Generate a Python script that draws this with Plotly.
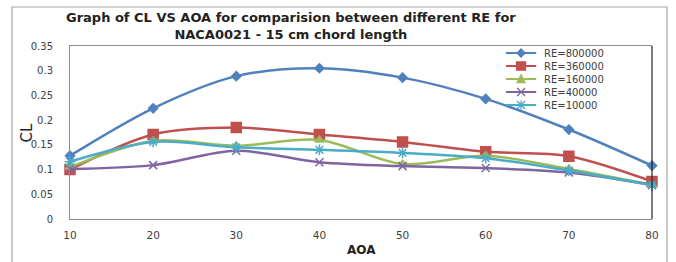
import plotly.graph_objects as go

aoa = [10, 20, 30, 40, 50, 60, 70, 80]
re_800000 = [0.128, 0.224, 0.289, 0.305, 0.286, 0.243, 0.181, 0.108]
re_360000 = [0.100, 0.171, 0.185, 0.171, 0.156, 0.136, 0.127, 0.076]
re_160000 = [0.105, 0.158, 0.148, 0.160, 0.111, 0.128, 0.101, 0.069]
re_40000 = [0.101, 0.109, 0.138, 0.115, 0.107, 0.103, 0.094, 0.069]
re_10000 = [0.116, 0.156, 0.145, 0.140, 0.134, 0.123, 0.098, 0.068]

series_names = ["RE=800000", "RE=360000", "RE=160000", "RE=40000", "RE=10000"]
series_values = [re_800000, re_360000, re_160000, re_40000, re_10000]
colors = ["#4F81BD", "#C0504D", "#9BBB59", "#8064A2", "#4BACC6"]
symbols = ["diamond", "square", "triangle-up", "x-thin-open", "asterisk-open"]
msizes = [7, 10, 8, 8, 9]

y_tickvals = [0, 0.05, 0.1, 0.15, 0.2, 0.25, 0.3, 0.35]
y_ticktext = ["0", "0.05", "0.1", "0.15", "0.2", "0.25", "0.3", "0.35"]
x_tickvals = aoa
x_ticktext = [str(v) for v in aoa]

title_lines = ["Graph of CL VS AOA for comparision between different RE for",
               "NACA0021 - 15 cm chord length"]

FONT = "DejaVu Sans"
PLOT_TOP, PLOT_BOTTOM = 46, 219
PLOT_H = PLOT_BOTTOM - PLOT_TOP


def py(pix):
    """pixel row -> paper y"""
    return (PLOT_BOTTOM - pix) / PLOT_H


fig = go.Figure()
for name, vals, c, s, ms in zip(series_names, series_values, colors, symbols, msizes):
    fig.add_trace(go.Scatter(
        x=aoa, y=vals, name=name, mode="lines+markers",
        line=dict(color=c, width=2.5, shape="spline", smoothing=0.9),
        marker=dict(symbol=s, size=ms, color=c, line=dict(color=c, width=1.5)),
        cliponaxis=False, showlegend=False,
    ))

fig.update_layout(
    width=676, height=262,
    margin=dict(l=70, r=24, t=PLOT_TOP, b=262 - PLOT_BOTTOM),
    paper_bgcolor="white", plot_bgcolor="white",
    font=dict(family=FONT, size=10, color="#404040"),
    xaxis=dict(range=[10, 80], tickvals=x_tickvals, ticktext=x_ticktext,
               showgrid=False, zeroline=False, showline=True, mirror=True,
               linecolor="#8C8C8C", linewidth=1, ticks="",
               ticklabelstandoff=6, tickfont=dict(size=10.5)),
    yaxis=dict(range=[0, 0.35], tickvals=y_tickvals, ticktext=y_ticktext,
               showgrid=False, zeroline=False, showline=True, mirror=False,
               linecolor="#8C8C8C", linewidth=1, ticks="",
               ticklabelstandoff=14, tickfont=dict(size=10)),
)

shapes = []
# outer chart frame
shapes.append(dict(type="rect", xref="paper", yref="paper",
                   x0=-0.0997, x1=1.0258, y0=-0.4, y1=py(7),
                   line=dict(color="#A6A6A6", width=1.2), layer="below"))
# right plot border (dark)
shapes.append(dict(type="line", xref="paper", yref="paper",
                   x0=1, x1=1, y0=0, y1=1, line=dict(color="#222222", width=1.2)))

TITLE_FONT = 13
annotations = [
    dict(text="<br>".join(f"<b>{t}</b>" for t in title_lines),
         xref="paper", yref="paper", x=0.38, y=py(26), xanchor="center", yanchor="middle",
         align="center", showarrow=False,
         font=dict(family=FONT, size=TITLE_FONT, color="#222222")),
    dict(text="CL", xref="paper", yref="paper", x=-0.074, y=0.5, textangle=-90,
         xanchor="center", yanchor="middle",
         showarrow=False, font=dict(family=FONT, size=15, color="#222222")),
    dict(text="<b>AOA</b>", xref="paper", yref="paper", x=0.5, y=py(250),
         xanchor="center", yanchor="middle",
         showarrow=False, font=dict(family=FONT, size=12, color="#222222")),
]

# compact legend: one multi-line text block, keys aligned to its lines
LEG_FONT = 10
line_gap = 1.3 * LEG_FONT
first_row = 53
rows = [first_row + i * line_gap for i in range(len(series_names))]
lx0, lx1, lxm, ltx = 0.749, 0.801, 0.775, 0.811
marker_paths = {
    "diamond": "M0,4 L4,0 L0,-4 L-4,0 Z",
    "square": "M-4.5,-4 L4.5,-4 L4.5,4 L-4.5,4 Z",
    "triangle-up": "M-4,-3.5 L4,-3.5 L0,4 Z",
    "x-thin-open": "M-4,-4 L4,4 M-4,4 L4,-4",
    "asterisk-open": "M-4,-4 L4,4 M-4,4 L4,-4 M0,-4.5 L0,4.5",
}
for c, s, r in zip(colors, symbols, rows):
    yy = py(r)
    shapes.append(dict(type="line", xref="paper", yref="paper",
                       x0=lx0, x1=lx1, y0=yy, y1=yy, line=dict(color=c, width=2)))
    filled = s in ("diamond", "square", "triangle-up")
    shapes.append(dict(type="path", xref="paper", yref="paper",
                       xsizemode="pixel", ysizemode="pixel", xanchor=lxm, yanchor=yy,
                       path=marker_paths[s], fillcolor=c if filled else "rgba(0,0,0,0)",
                       line=dict(color=c, width=1.3)))
annotations.append(dict(text="<br>".join(series_names), xref="paper", yref="paper",
                        x=ltx, y=py((rows[0] + rows[-1]) / 2),
                        xanchor="left", yanchor="middle", align="left",
                        showarrow=False,
                        font=dict(family=FONT, size=LEG_FONT, color="#404040")))

fig.update_layout(shapes=shapes, annotations=annotations)
fig.write_html("out.html", config={"displayModeBar": False},
               post_script="document.body.style.margin='0';")
